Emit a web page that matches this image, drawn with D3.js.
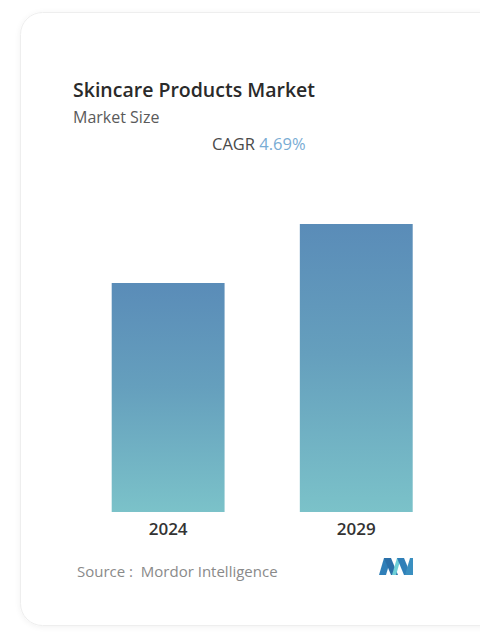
<!DOCTYPE html>
<html>
<head>
<meta charset="utf-8">
<script src="https://cdn.jsdelivr.net/npm/d3@7/dist/d3.min.js"></script>
<style>
  html, body { margin: 0; padding: 0; background: #ffffff; }
  svg { display: block; font-family: "Open Sans", Lato, sans-serif; }
</style>
</head>
<body>
<svg id="chart" width="480" height="637"></svg>
<script>
// Market size by year (USD billion)
const years = ["2024", "2029"];
const marketSize = [146.7, 184.5];
const cagrLabel = "4.69%";

const title = "Skincare Products Market";
const subtitle = "Market Size";
const sourceText = "Source :  Mordor Intelligence";

const svg = d3.select("#chart");

// soft card shadow
const defs = svg.append("defs");
const shadow = defs.append("filter").attr("id", "cardShadow")
  .attr("x", "-10%").attr("y", "-10%").attr("width", "120%").attr("height", "120%");
shadow.append("feGaussianBlur").attr("in", "SourceAlpha").attr("stdDeviation", 3);
shadow.append("feOffset").attr("dx", 0).attr("dy", 1).attr("result", "blur");
shadow.append("feComponentTransfer").append("feFuncA").attr("type", "linear").attr("slope", 0.06);
const merge = shadow.append("feMerge");
merge.append("feMergeNode");
merge.append("feMergeNode").attr("in", "SourceGraphic");

// vertical bar gradient, blue at the top fading to teal
const grad = defs.append("linearGradient").attr("id", "barGrad")
  .attr("x1", 0).attr("y1", 0).attr("x2", 0).attr("y2", 1);
grad.append("stop").attr("offset", "0%").attr("stop-color", "#5a8cb8");
grad.append("stop").attr("offset", "45%").attr("stop-color", "#659fbd");
grad.append("stop").attr("offset", "100%").attr("stop-color", "#7bc2c9");

// card (runs past the right edge)
svg.append("rect")
  .attr("x", 20.5).attr("y", 12.5)
  .attr("width", 520).attr("height", 613)
  .attr("rx", 22)
  .attr("fill", "#ffffff")
  .attr("stroke", "#eeeeee")
  .attr("stroke-width", 1)
  .attr("filter", "url(#cardShadow)");

// headings
svg.append("text")
  .attr("x", 73).attr("y", 97)
  .style("font-family", "'Open Sans', Lato, sans-serif")
  .style("font-size", "19.5px")
  .style("font-weight", 600)
  .attr("fill", "#2a2a2a")
  .text(title);

svg.append("text")
  .attr("x", 73).attr("y", 123)
  .style("font-size", "16px")
  .attr("fill", "#5a5a5a")
  .text(subtitle);

const cagr = svg.append("text")
  .attr("x", 212).attr("y", 150)
  .style("font-size", "16.5px")
  .attr("fill", "#4a4a4a");
cagr.append("tspan").text("CAGR ");
cagr.append("tspan").attr("fill", "#79acd4").text(cagrLabel);

// scales
const x = d3.scaleBand()
  .domain(years)
  .range([111.7, 412.7])
  .paddingInner(0.4)
  .paddingOuter(0);

const y = d3.scaleLinear()
  .domain([0, d3.max(marketSize)])
  .range([512, 224]);

// bars
svg.append("g")
  .selectAll("rect")
  .data(years.map((yr, i) => ({ year: yr, value: marketSize[i] })))
  .join("rect")
  .attr("x", d => x(d.year))
  .attr("y", d => y(d.value))
  .attr("width", x.bandwidth())
  .attr("height", d => y(0) - y(d.value))
  .attr("fill", "url(#barGrad)");

// year axis
const axis = svg.append("g")
  .attr("transform", `translate(0,${y(0)})`)
  .call(d3.axisBottom(x).tickSize(0).tickPadding(11));
axis.select(".domain").remove();
axis.attr("font-family", null).attr("font-size", null);
axis.selectAll("text")
  .style("font-family", "'Open Sans', Lato, sans-serif")
  .style("font-size", "17px")
  .style("font-weight", 600)
  .attr("fill", "#333333");

// source line
svg.append("text")
  .attr("x", 77).attr("y", 577)
  .style("font-size", "15px")
  .attr("fill", "#8a8a8a")
  .style("white-space", "pre")
  .text(sourceText);

// logo mark
const logo = svg.append("g").attr("transform", "translate(379,558)");
const logoShapes = [
  { pts: [[0,17],[5,0],[12,0],[7,17]], fill: "#2f7fb8" },
  { pts: [[5,0],[12,0],[19,17],[12,17]], fill: "#2a6fa8" },
  { pts: [[13,17],[18,0],[22,0],[17,17]], fill: "#6fd0d8" },
  { pts: [[18,0],[25,0],[32,17],[25,17]], fill: "#2f7fb8" },
  { pts: [[26,17],[31,0],[34,0],[34,17]], fill: "#3a8fc0" }
];
logo.selectAll("polygon")
  .data(logoShapes)
  .join("polygon")
  .attr("points", d => d.pts.map(p => p.join(",")).join(" "))
  .attr("fill", d => d.fill);
</script>
</body>
</html>
